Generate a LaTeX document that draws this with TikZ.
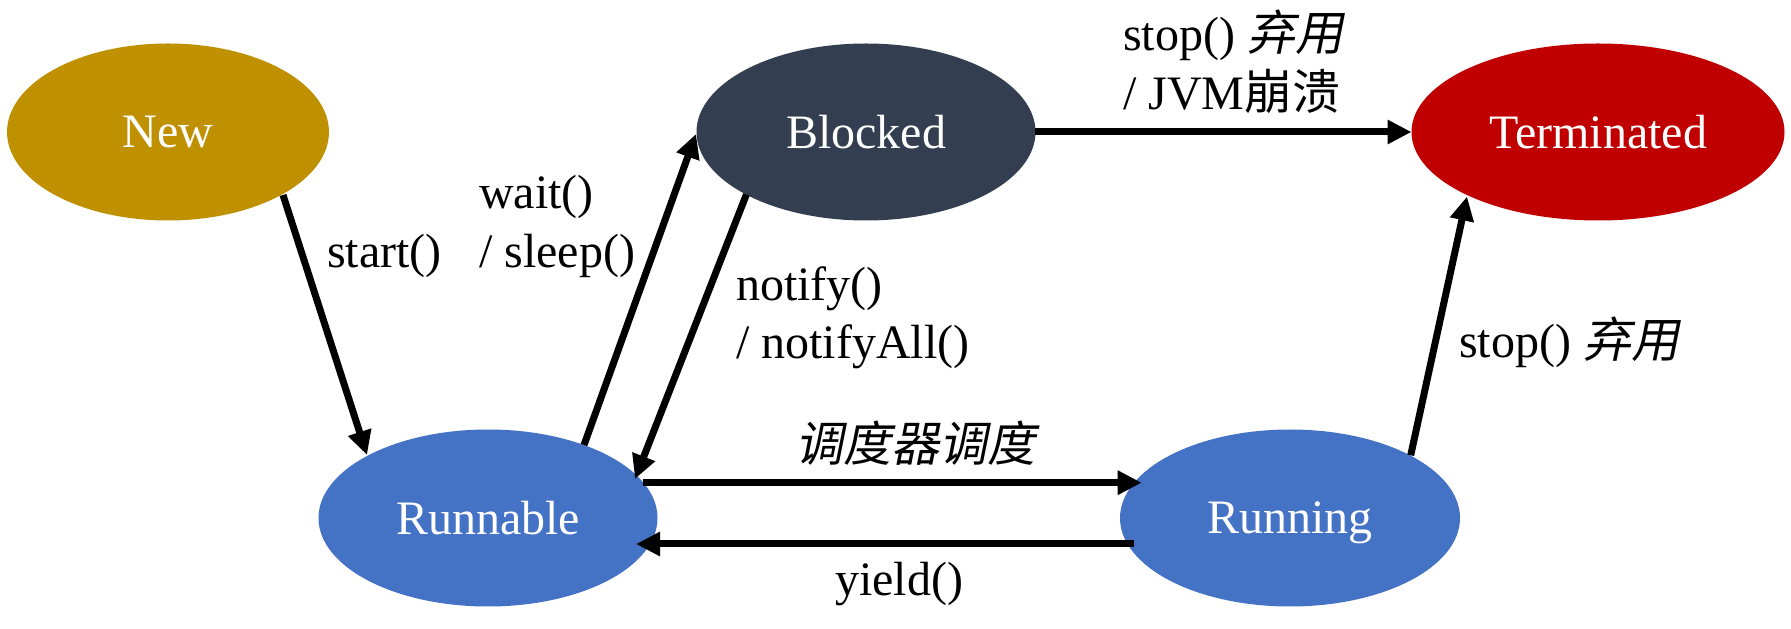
\documentclass[tikz,border=0pt]{standalone}
\usepackage{fontspec}
\setmainfont{Liberation Serif}
\newfontfamily\cjk{Noto Sans CJK SC}
\newfontfamily\cjki[FakeSlant=0.2]{Noto Sans CJK SC}
\usetikzlibrary{shapes.geometric,arrows.meta}
\definecolor{cnew}{HTML}{BF9000}
\definecolor{cblk}{HTML}{333F50}
\definecolor{cterm}{HTML}{C00000}
\definecolor{cblue}{HTML}{4472C4}
\begin{document}
\begin{tikzpicture}[x=1pt,y=1pt,
  state/.style={ellipse, minimum height=177pt, inner sep=0pt, outer sep=0pt,
    text=white, font=\fontsize{48}{58}\selectfont, text depth=0pt},
  lbl/.style={font=\fontsize{48}{58}\selectfont, inner sep=0pt, anchor=base west},
  arr/.style={line width=7pt, -{Triangle[length=24pt,width=23pt]}}]
\fill[white] (0,0) rectangle (1791,629);
\useasboundingbox (0,0) rectangle (1791,629);
\node[state, fill=cnew, minimum width=322pt] (new) at (168,497) {New};
\node[state, fill=cblk, minimum width=339pt] (blk) at (866,497) {Blocked};
\node[state, fill=cterm, minimum width=373pt] (term) at (1598,497) {Terminated};
\node[state, fill=cblue, minimum width=339pt] (rnb) at (488,111) {Runnable};
\node[state, fill=cblue, minimum width=340pt] (rng) at (1290,111) {Running};
\draw[arr] ([shift={(115,-63)}]new.center) -- ([shift={(-121,63)}]rnb.center);
\draw[arr] ([shift={(96,73)}]rnb.center) -- ([shift={(-170,-2)}]blk.center);
\draw[arr] ([shift={(-119.6,-62.5)}]blk.center) -- ([shift={(147,39)}]rnb.center);
\draw[arr] ([shift={(169,0)}]blk.center) -- ([shift={(-186.5,0)}]term.center);
\draw[arr] ([shift={(154.7,35.3)}]rnb.center) -- ([shift={(-148.3,35.3)}]rng.center);
\draw[arr] ([shift={(-156,-26)}]rng.center) -- ([shift={(148,-26)}]rnb.center);
\draw[arr] ([shift={(120.7,62.7)}]rng.center) -- ([shift={(-131,-64.5)}]term.center);
\node[lbl] (l1) at (327,361) {start()};
\node[lbl] (l2a) at (479,420) {wait()};
\node[lbl] (l2b) at (479,361) {/ sleep()};
\node[lbl] (l3a) at (736,328) {notify()};
\node[lbl] (l3b) at (736,270) {/ notifyAll()};
\node[lbl] (l4a) at (1123,578) {stop() {\cjki 弃用}};
\node[lbl] (l4b) at (1123,519) {/ JVM{\cjk 崩溃}};
\node[lbl, anchor=base] (l5) at (915,167) {\cjki 调度器调度};
\node[lbl, anchor=base] (l6) at (899,33) {yield()};
\node[lbl] (l7) at (1459,271) {stop() {\cjki 弃用}};
\end{tikzpicture}
\end{document}
